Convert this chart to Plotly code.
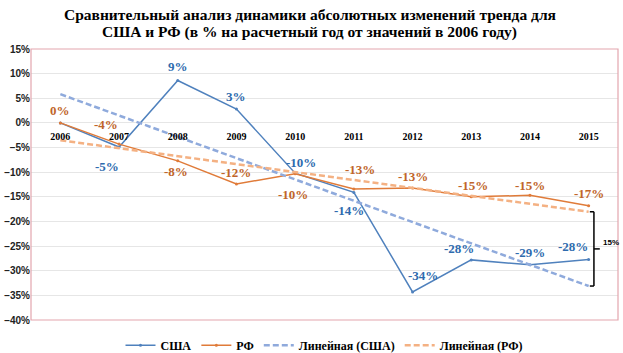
import numpy as np
import plotly.graph_objects as go

years = ["2006", "2007", "2008", "2009", "2010", "2011", "2012", "2013", "2014", "2015"]
usa = [0.0, -4.9, 8.6, 2.8, -10.2, -14.1, -34.3, -27.8, -28.8, -27.7]
rf = [0.0, -4.3, -7.7, -12.4, -10.3, -13.4, -13.2, -15.0, -14.7, -16.8]

title_lines = ["Сравнительный анализ динамики абсолютных изменений тренда для",
               "США и РФ (в % на расчетный год от значений в 2006 году)"]

# label offsets (px) for data labels
usa_shift = [None, (-12, -19), (0, 14), (0, 13), (6, 11), (-5, -18), (10, 16), (-12, 11), (0, 12), (-16, 13)]
rf_shift = [(0, 12), (-13, 20), (-2, -11), (0, 12), (-2, -21), (6, 19), (0, 11), (2, 11), (0, 10), (0, 12)]

C_USA = "#4F81BD"
C_USA_T = "#2E6BAE"
C_RF = "#E07B39"
C_RF_T = "#C0652A"
C_USA_TR = "#8FAADC"
C_RF_TR = "#F4B183"

xi = np.arange(len(years))
pu = np.polyfit(xi, usa, 1)
pr = np.polyfit(xi, rf, 1)
usa_tr = np.polyval(pu, xi)
rf_tr = np.polyval(pr, xi)

fig = go.Figure()
fig.add_trace(go.Scatter(x=years, y=usa, mode="lines+markers", name="США",
                         line=dict(color=C_USA, width=1.5), marker=dict(size=3, color=C_USA)))
fig.add_trace(go.Scatter(x=years, y=rf, mode="lines+markers", name="РФ",
                         line=dict(color=C_RF, width=1.5), marker=dict(size=3, color=C_RF)))
fig.add_trace(go.Scatter(x=years, y=usa_tr, mode="lines", name="Линейная (США)",
                         line=dict(color=C_USA_TR, width=2.5, dash="6px,3px")))
fig.add_trace(go.Scatter(x=years, y=rf_tr, mode="lines", name="Линейная (РФ)",
                         line=dict(color=C_RF_TR, width=2.5, dash="6px,3px")))

lab_font = dict(family="Liberation Serif", size=13)
for i, v in enumerate(usa):
    if usa_shift[i] is None:
        continue
    fig.add_annotation(x=i, y=v, text=f"<b>{int(np.floor(v + 0.5))}%</b>", showarrow=False,
                       xshift=usa_shift[i][0], yshift=usa_shift[i][1],
                       font=dict(color=C_USA_T, **lab_font))
for i, v in enumerate(rf):
    fig.add_annotation(x=i, y=v, text=f"<b>{int(np.floor(v + 0.5))}%</b>", showarrow=False,
                       xshift=rf_shift[i][0], yshift=rf_shift[i][1],
                       font=dict(color=C_RF_T, **lab_font))

# bracket showing gap between trends at the last year
top = rf_tr[-1]
bot = usa_tr[-1]
mid = (top + bot) / 2
bx = len(years) - 1 + 0.09
blk = dict(color="black", width=1.5)
fig.add_shape(type="line", xref="x", yref="y", x0=bx, x1=bx, y0=bot, y1=top, line=blk)
fig.add_shape(type="line", xref="x", yref="y", x0=bx - 0.07, x1=bx, y0=top, y1=top, line=blk)
fig.add_shape(type="line", xref="x", yref="y", x0=bx - 0.07, x1=bx, y0=bot, y1=bot, line=blk)
fig.add_shape(type="line", xref="x", yref="y", x0=bx, x1=bx + 0.1, y0=mid, y1=mid, line=blk)
fig.add_annotation(x=bx + 0.1, y=mid, text=f"<b>{int(round(top - bot))}%</b>", showarrow=False,
                   xanchor="left", yshift=6, xshift=1,
                   font=dict(family="Liberation Sans", size=8, color="black"))

# title
for k, line in enumerate(title_lines):
    fig.add_annotation(xref="paper", yref="paper", x=0.475, y=1, yanchor="middle",
                       yshift=35 - 18 * k, text=f"<b>{line}</b>", showarrow=False,
                       font=dict(family="Liberation Serif", size=15.5, color="black"))

# plot border
fig.add_shape(type="rect", xref="paper", yref="paper", x0=0, x1=1, y0=0, y1=1,
              line=dict(color="#E3A6AE", width=1.2), layer="above")

fig.update_layout(
    width=623, height=353,
    margin=dict(l=31, r=5, t=49, b=33, autoexpand=False),
    paper_bgcolor="white", plot_bgcolor="white",
    showlegend=True,
    legend=dict(orientation="h", x=0.5, xanchor="center", yref="container", y=0.022, yanchor="middle",
                font=dict(family="Liberation Serif", size=12, color="black", weight="bold"),
                itemwidth=30, tracegroupgap=0),
    xaxis=dict(type="category", anchor="free", position=(0 - (-40)) / 55, showline=False,
               showgrid=False, ticks="", ticklabelstandoff=6,
               tickfont=dict(family="Liberation Serif", size=10, color="black", weight="bold"),
               range=[-0.5, 9.5], zeroline=False),
    yaxis=dict(range=[-40, 15], dtick=5, ticksuffix="%", showgrid=True, gridcolor="#E6E6E6",
               zeroline=False, showline=False,
               tickfont=dict(family="Liberation Sans", size=10, color="#222", weight="bold")),
)

fig.write_html("out.html")
